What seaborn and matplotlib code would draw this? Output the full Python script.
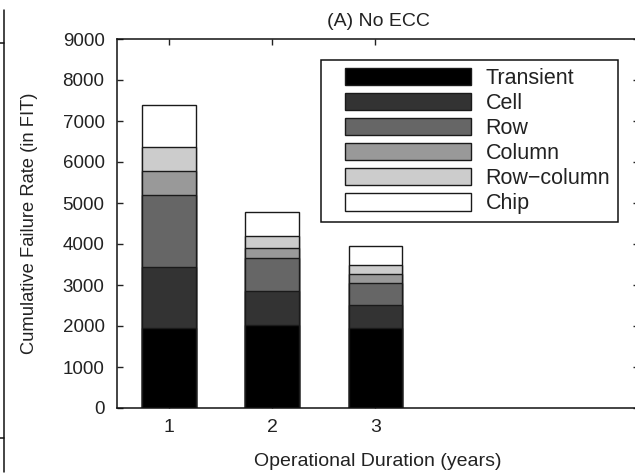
import matplotlib
matplotlib.use("Agg")
import matplotlib.pyplot as plt
from matplotlib.lines import Line2D
from matplotlib.patches import Patch, Rectangle
from matplotlib.legend_handler import HandlerPatch
import pandas as pd
import seaborn as sns

# values (FIT per failure mode, stacked bottom -> top)
years = [1, 2, 3]
transient = [1950, 2020, 1950]
cell = [1490, 830, 560]
row = [1750, 800, 550]
column = [590, 250, 200]
row_column = [590, 290, 220]
chip = [1020, 580, 460]

modes = ["Transient", "Cell", "Row", "Column", "Row\u2212column", "Chip"]
colors = ["#000000", "#333333", "#666666", "#999999", "#cccccc", "#ffffff"]
yticks = [0, 1000, 2000, 3000, 4000, 5000, 6000, 7000, 8000, 9000]

series = [transient, cell, row, column, row_column, chip]
rows = []
for mode, vals in zip(modes, series):
    for yr, v in zip(years, vals):
        rows.append({"year": yr, "mode": mode, "rate": v})
df = pd.DataFrame(rows)
df["mode"] = pd.Categorical(df["mode"], categories=modes, ordered=True)
df = df.sort_values(["year", "mode"])
df["cum"] = df.groupby("year")["rate"].cumsum()

sns.set_style("ticks")
plt.rcParams["font.family"] = ["Liberation Sans", "DejaVu Sans"]
plt.rcParams["text.color"] = "#222222"
plt.rcParams["axes.labelcolor"] = "#222222"
plt.rcParams["xtick.color"] = "#222222"
plt.rcParams["ytick.color"] = "#222222"

fig = plt.figure(figsize=(6.35, 4.74), dpi=100)
ax = fig.add_axes([117 / 635, 66 / 474, 522 / 635, 369 / 474])

edge = "#1a1a1a"
# draw tallest cumulative layer first, then overlay the smaller ones
for mode, col in reversed(list(zip(modes, colors))):
    layer = df[df["mode"] == mode]
    sns.barplot(data=layer, x="year", y="cum", native_scale=True, width=0.52,
                color=col, saturation=1, edgecolor=edge, linewidth=1.0,
                errorbar=None, ax=ax)

ax.set_xlim(0.5, 5.55)
ax.set_ylim(0, 9000)
ax.set_xticks(years)
ax.set_yticks(yticks)
ax.tick_params(direction="in", length=4, width=1, top=True, right=True,
               labelsize=14, colors="#222222")
ax.tick_params(axis="y", pad=9, labelsize=13.5)
ax.tick_params(axis="x", pad=8)
for s in ax.spines.values():
    s.set_visible(True)
    s.set_linewidth(1.1)
    s.set_color("#111111")

ax.set_xlabel("Operational Duration (years)", fontsize=14, labelpad=12)
ax.set_ylabel("Cumulative Failure Rate (in FIT)", fontsize=13.2, labelpad=18)
ax.set_title("(A) No ECC", fontsize=14, pad=9)


# legend swatches sit a bit further in from the frame than matplotlib's default
def swatch(legend, orig_handle, xdescent, ydescent, width, height, fontsize):
    shift = 11.7
    return Rectangle((-xdescent + shift, -ydescent), width - shift, height)


handles = [Patch(facecolor=c, edgecolor=edge, linewidth=1.0) for c in colors]
leg = ax.legend(handles, modes, loc="upper right", bbox_to_anchor=(0.960, 0.943),
                fontsize=15.5, frameon=True, fancybox=False, framealpha=1,
                edgecolor="#111111", handlelength=6.6, handleheight=0.85,
                labelspacing=0.19, handletextpad=0.7, borderpad=0.36,
                borderaxespad=0,
                handler_map={Patch: HandlerPatch(patch_func=swatch)})
leg.get_frame().set_linewidth(1.1)

# fragment of the neighbouring panel's frame at the left edge
x0 = 4 / 635
fig.add_artist(Line2D([x0, x0], [1 - 10 / 474, 1 - 472 / 474],
                      transform=fig.transFigure, color="#111111", lw=1.1))
for yy in (43, 438):
    fig.add_artist(Line2D([0, x0], [1 - yy / 474, 1 - yy / 474],
                          transform=fig.transFigure, color="#111111", lw=1.1))

fig.savefig("out.png", dpi=100)
